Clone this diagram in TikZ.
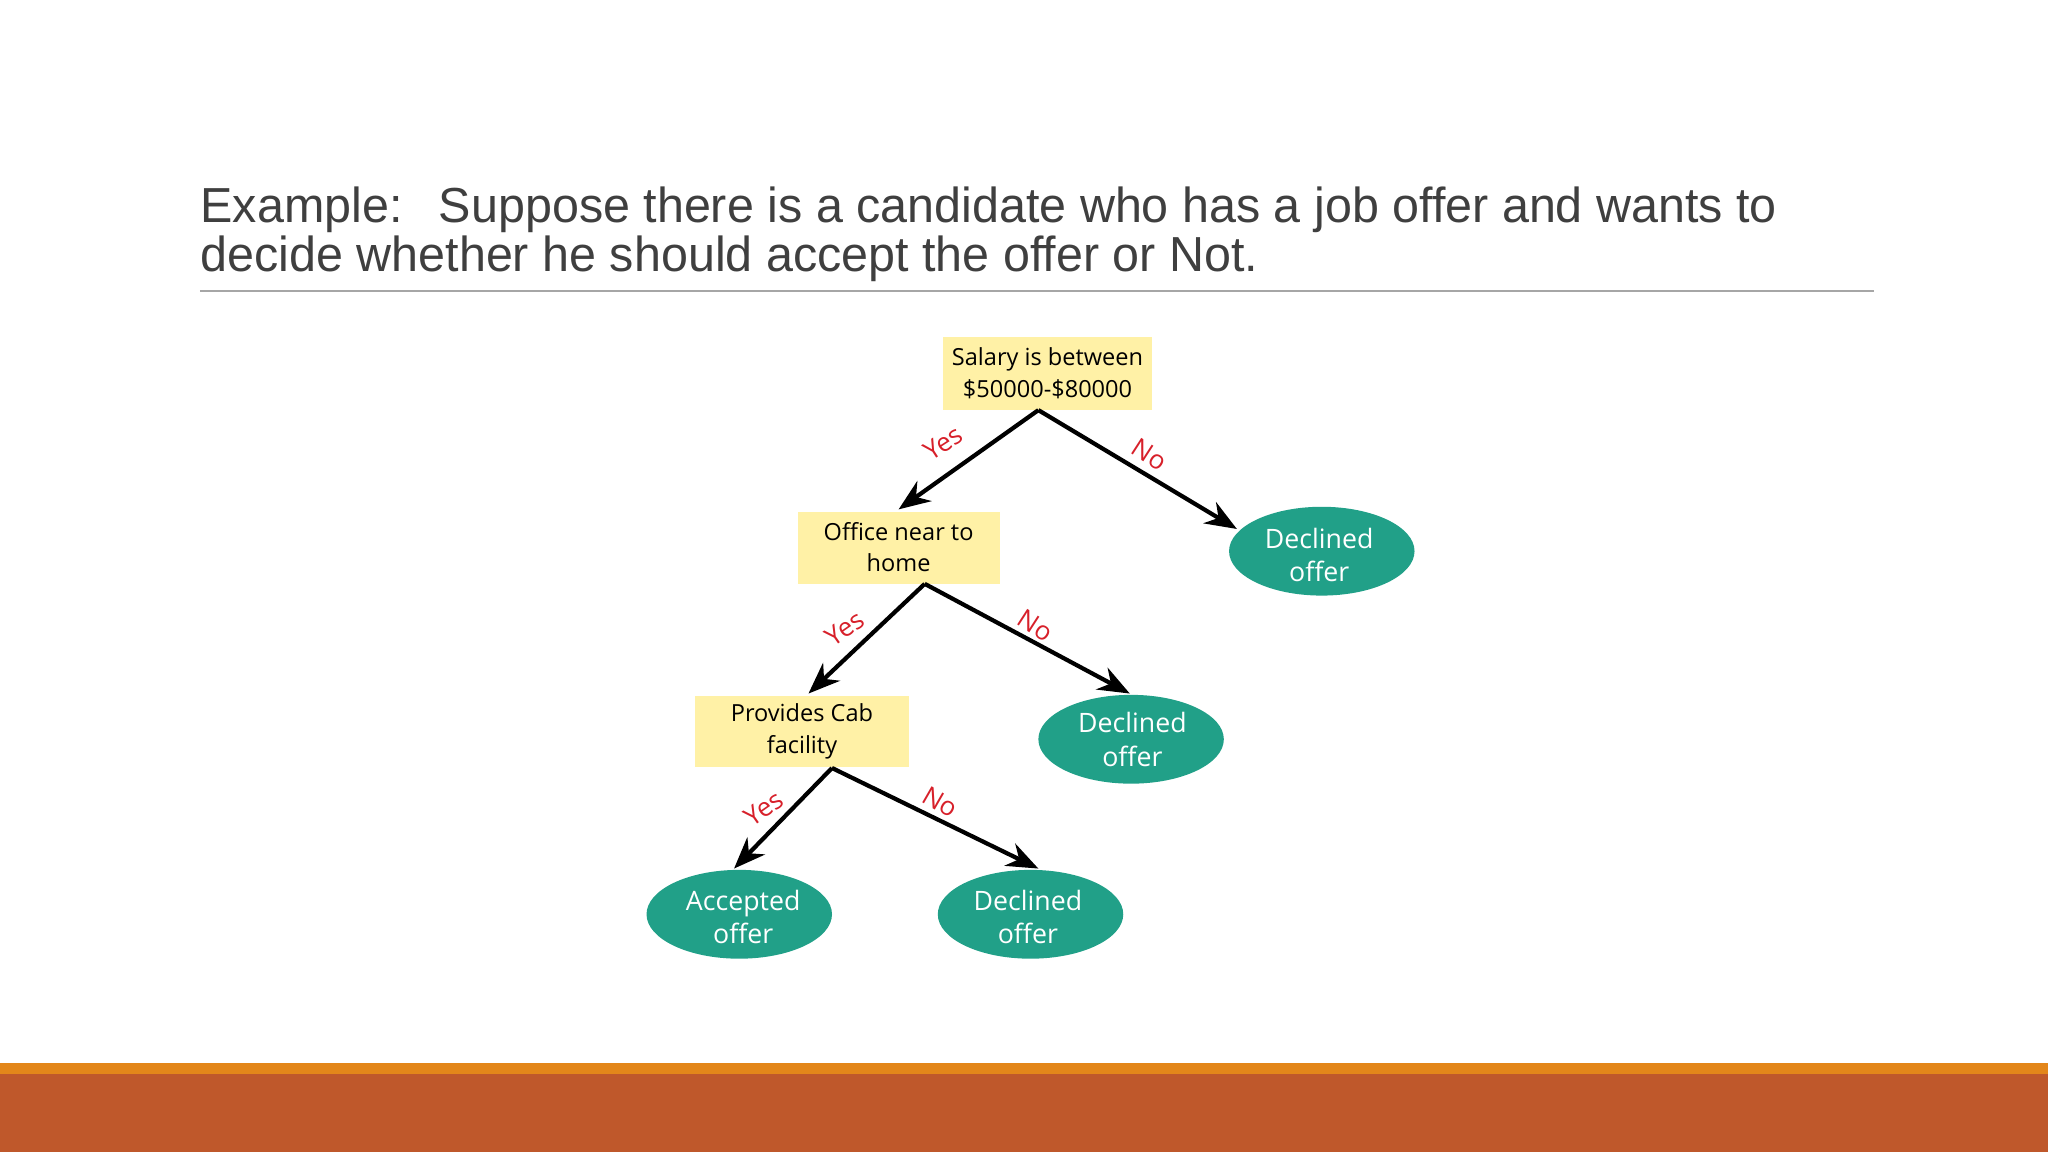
\documentclass[tikz,border=0pt]{standalone}
\usepackage{fontspec}
\setmainfont{Liberation Sans}
\newfontfamily\nodefont{Open Sans}
\usetikzlibrary{arrows.meta,shapes.geometric}
\definecolor{boxy}{HTML}{FFF1A6}
\definecolor{tealc}{HTML}{21A088}
\definecolor{redl}{HTML}{D7202A}
\definecolor{orstrip}{HTML}{E3861A}
\definecolor{rust}{HTML}{BF582B}
\definecolor{titleg}{HTML}{3F3F3F}
\begin{document}
\begin{tikzpicture}[x=0.01306cm,y=-0.01306cm,
  qbox/.style={font=\nodefont\fontsize{6.7pt}{9pt}\selectfont,align=center,inner sep=0pt},
  leaf/.style={text=white,font=\nodefont\fontsize{7.6pt}{9.6pt}\selectfont,align=center,inner sep=0pt},
  lbl/.style={text=redl,font=\nodefont\fontsize{7.4pt}{8pt}\selectfont,inner sep=0pt},
  ttl/.style={anchor=base west,text=titleg,font=\fontsize{14pt}{14pt}\selectfont,inner sep=0pt,xscale=0.985},
  arr/.style={line width=1.2pt,-{Stealth[length=9pt,width=7pt]}}]
\useasboundingbox (0,0) rectangle (1568,882);
\fill[orstrip] (0,814) rectangle (1568,822);
\fill[rust] (0,822) rectangle (1568,882);
\node[ttl] (t1) at (153,170) {Example:\hspace{0.75em}Suppose there is a candidate who has a job offer and wants to};
\node[ttl] (t2) at (153,208) {decide whether he should accept the offer or Not.};
\draw[gray!70,line width=0.6pt] (153,223) -- (1435,223);
\fill[boxy] (722,258) rectangle (882,314);
\node[qbox] (b1) at (802,286) {Salary is between\\\$50000-\$80000};
\fill[boxy] (611,392) rectangle (766,447);
\node[qbox] (b2) at (688,419) {Office near to\\home};
\fill[boxy] (532,533) rectangle (696,587);
\node[qbox] (b3) at (614,560) {Provides Cab\\facility};
\fill[tealc] (1012,422) ellipse [x radius=71, y radius=34];
\node[leaf] (d1) at (1010,425) {Declined\\offer};
\fill[tealc] (866,566) ellipse [x radius=71, y radius=34];
\node[leaf] (d2) at (867,566) {Declined\\offer};
\fill[tealc] (566,700) ellipse [x radius=71, y radius=34];
\node[leaf] (a1) at (569,702) {Accepted\\offer};
\fill[tealc] (789,700) ellipse [x radius=71, y radius=34];
\node[leaf] (d3) at (787,702) {Declined\\offer};
\coordinate (s1) at (795,314);
\coordinate (e1a) at (688,390);
\coordinate (e1b) at (947,405);
\coordinate (s2) at (708,447);
\coordinate (e2a) at (619,531);
\coordinate (e2b) at (865,531);
\coordinate (s3) at (637,588);
\coordinate (e3a) at (562,665);
\coordinate (e3b) at (795,665);
\draw[arr] (s1) -- (e1a);
\draw[arr] (s1) -- (e1b);
\draw[arr] (s2) -- (e2a);
\draw[arr] (s2) -- (e2b);
\draw[arr] (s3) -- (e3a);
\draw[arr] (s3) -- (e3b);
\node[lbl,rotate=33] (y1) at (722,339) {Yes};
\node[lbl,rotate=-33] (n1) at (880,348) {No};
\node[lbl,rotate=35] (y2) at (647,481) {Yes};
\node[lbl,rotate=-33] (n2) at (793,479) {No};
\node[lbl,rotate=35] (y3) at (585,619) {Yes};
\node[lbl,rotate=-30] (n3) at (720,614) {No};
\end{tikzpicture}
\end{document}
